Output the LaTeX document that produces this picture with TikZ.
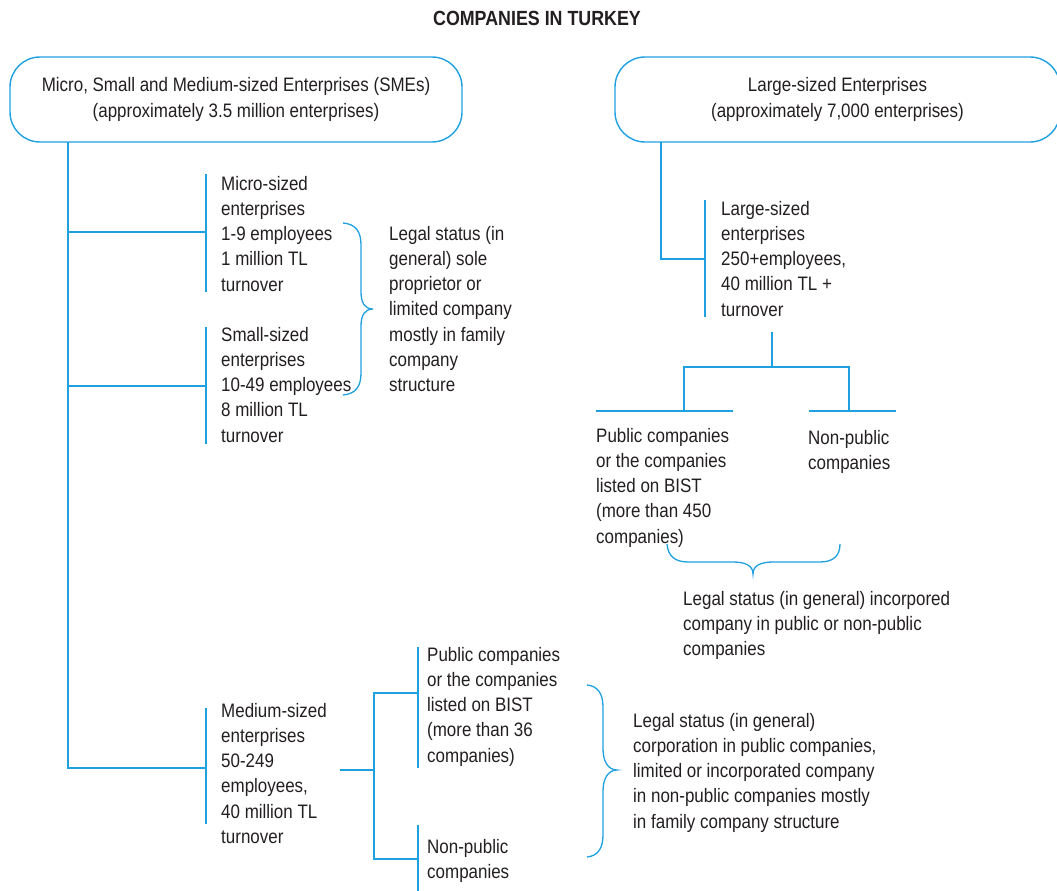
\documentclass[tikz,border=0pt]{standalone}
\usepackage{fontspec}
\setmainfont[FakeStretch=0.87]{Liberation Sans}
\definecolor{lb}{RGB}{30,160,225}
\definecolor{tx}{RGB}{35,31,32}
\begin{document}
\begin{tikzpicture}[x=1pt,y=-1pt,
  ln/.style={draw=lb, line width=1.4pt},
  txt/.style={anchor=north west, inner sep=0pt, align=left, text=tx,
    font=\fontsize{19.5}{25.2}\selectfont, execute at begin node=\rule{0pt}{15pt}},
  topbox/.style={draw=lb, line width=1.4pt, rounded corners=30pt, align=center,
    text=tx, font=\fontsize{19.5}{25.2}\selectfont, minimum height=85pt, inner sep=0pt},
  brace/.style={draw=lb, line width=1.3pt}]
\useasboundingbox (0,0) rectangle (1057,891);

% title
\node[text=tx, font=\bfseries\fontsize{20.5}{24}\selectfont, inner sep=0pt] (title) at (537,18) {COMPANIES IN TURKEY};

% top boxes
\node[topbox, minimum width=452pt] (sme) at (236,99.5) {Micro, Small and Medium-sized Enterprises (SMEs)\\(approximately 3.5 million enterprises)};
\node[topbox, minimum width=445pt] (large) at (837.5,99.5) {Large-sized Enterprises\\(approximately 7,000 enterprises)};

% texts
\node[txt] (micro) at (221,176) {Micro-sized\\enterprises\\1-9 employees\\1 million TL\\turnover};
\node[txt] (small) at (221,327) {Small-sized\\enterprises\\10-49 employees\\8 million TL\\turnover};
\node[txt] (legal1) at (389,226) {Legal status (in\\general) sole\\proprietor or\\limited company\\mostly in family\\company\\structure};
\node[txt] (largeent) at (721,201) {Large-sized\\enterprises\\250+employees,\\40 million TL +\\turnover};
\node[txt] (pub1) at (596,428) {Public companies\\or the companies\\listed on BIST\\(more than 450\\companies)};
\node[txt] (nonpub1) at (808,430) {Non-public\\companies};
\node[txt] (legal2) at (683,591) {Legal status (in general) incorpored\\company in public or non-public\\companies};
\node[txt] (medium) at (221,703) {Medium-sized\\enterprises\\50-249\\employees,\\40 million TL\\turnover};
\node[txt] (pub2) at (427,647) {Public companies\\or the companies\\listed on BIST\\(more than 36\\companies)};
\node[txt] (nonpub2) at (427,839) {Non-public\\companies};
\node[txt] (legal3) at (633,713) {Legal status (in general)\\corporation in public companies,\\limited or incorporated company\\in non-public companies mostly\\in family company structure};

% SME tree
\coordinate (t0) at (68,142);
\coordinate (tm) at (68,232);
\coordinate (ts) at (68,386);
\coordinate (td) at (68,768);
\draw[ln] (t0) -- (td) -- (206,768);
\draw[ln] (tm) -- (206,232);
\draw[ln] (ts) -- (206,386);
\draw[ln] (206,174) -- (206,292);
\draw[ln] (206,327) -- (206,444);
\draw[ln] (206,708) -- (206,824);

% medium split
\coordinate (ms) at (340,770);
\coordinate (mj) at (374,770);
\draw[ln] (ms) -- (mj);
\draw[ln] (418,693) -- (374,693) -- (374,859) -- (418,859);
\draw[ln] (418,647) -- (418,768);
\draw[ln] (418,825) -- (418,893);

% large tree
\coordinate (l0) at (661,142);
\coordinate (lj) at (661,259);
\draw[ln] (l0) -- (lj) -- (705,259);
\draw[ln] (705,200) -- (705,317);
\draw[ln] (772,332) -- (772,367);
\draw[ln] (684,411) -- (684,367) -- (849,367) -- (849,411);
\draw[ln] (596,411) -- (733,411);
\draw[ln] (809,411) -- (896,411);

% braces
\draw[brace] (343,223) .. controls (356,224) and (361,232) .. (361,245) -- (361,292)
  .. controls (361,303) and (365,309) .. (373,309)
  .. controls (365,309) and (361,315) .. (361,326) -- (361,373)
  .. controls (361,386) and (356,394) .. (343,395);
\draw[brace] (587,685) .. controls (598,686) and (603,694) .. (603,707) -- (603,749)
  .. controls (603,761) and (608,770) .. (617,770)
  .. controls (608,770) and (603,779) .. (603,791) -- (603,835)
  .. controls (603,848) and (598,856) .. (587,857);
\draw[brace] (667,544) .. controls (668,556) and (675,562) .. (688,562) -- (733,562)
  .. controls (746,562) and (753,566) .. (753,574)
  .. controls (753,566) and (760,562) .. (773,562) -- (820,562)
  .. controls (833,562) and (840,556) .. (840,544);
\end{tikzpicture}
\end{document}
